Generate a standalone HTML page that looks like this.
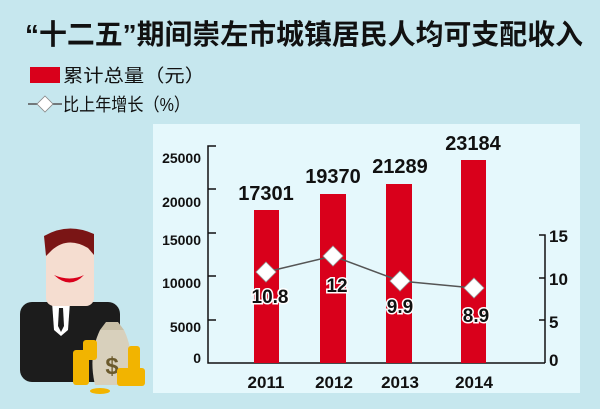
<!DOCTYPE html>
<html><head><meta charset="utf-8"><style>
html,body{margin:0;padding:0;}
body{width:600px;height:409px;background:#c6e7ee;overflow:hidden;}
svg{display:block;}
</style></head><body>
<svg width="600" height="409" viewBox="0 0 600 409" xmlns="http://www.w3.org/2000/svg" font-family="'Liberation Sans','Noto Sans CJK SC',sans-serif">
<rect width="600" height="409" fill="#c6e7ee"/>
<text x="25" y="44" font-size="28" font-weight="bold" fill="#111" textLength="558" lengthAdjust="spacingAndGlyphs">“十二五”期间崇左市城镇居民人均可支配收入</text>
<rect x="30" y="67" width="30" height="16" fill="#d9001b"/>
<text x="63" y="82" font-size="18" fill="#111" textLength="142" lengthAdjust="spacingAndGlyphs">累计总量（元）</text>
<line x1="28" y1="104" x2="62" y2="104" stroke="#555" stroke-width="1.5"/>
<path d="M45 96 L53 104 L45 112 L37 104Z" fill="#fff" stroke="#888" stroke-width="0.8"/>
<text x="63" y="111" font-size="18" fill="#111" textLength="127" lengthAdjust="spacingAndGlyphs">比上年增长（%）</text>
<rect x="153" y="124" width="427" height="269" fill="#e5f8fc"/>
<!-- left axis -->
<g stroke="#111" stroke-width="1.5" fill="none">
<polyline points="216,146 208,146 208,363 545,363"/>
<line x1="208" y1="189" x2="216" y2="189"/><line x1="208" y1="233" x2="216" y2="233"/>
<line x1="208" y1="276" x2="216" y2="276"/><line x1="208" y1="320" x2="216" y2="320"/>
<polyline points="539,235 545,235 545,363"/>
<line x1="539" y1="278" x2="545" y2="278"/><line x1="539" y1="320" x2="545" y2="320"/>
</g>
<g font-size="14" font-weight="bold" fill="#111" text-anchor="end">
<text x="201" y="163">25000</text><text x="201" y="207">20000</text><text x="201" y="245">15000</text>
<text x="201" y="288">10000</text><text x="201" y="332">5000</text><text x="201" y="363">0</text>
</g>
<g font-size="17" font-weight="bold" fill="#111">
<text x="549" y="242">15</text><text x="549" y="285">10</text><text x="549" y="328">5</text><text x="549" y="366">0</text>
</g>
<g fill="#d9001b">
<rect x="254" y="210" width="25" height="153"/><rect x="320" y="194" width="26" height="169"/>
<rect x="386" y="184" width="26" height="179"/><rect x="461" y="160" width="25" height="203"/>
</g>
<g font-size="20" font-weight="bold" fill="#111" text-anchor="middle">
<text x="266" y="200">17301</text><text x="333" y="183">19370</text><text x="400" y="173">21289</text><text x="473" y="150">23184</text>
</g>
<g font-size="17" font-weight="bold" fill="#111" text-anchor="middle">
<text x="266" y="388">2011</text><text x="334" y="388">2012</text><text x="400" y="388">2013</text><text x="474" y="388">2014</text>
</g>
<polyline points="266,272 333,256 400,281 474,288" fill="none" stroke="#555" stroke-width="1.5"/>
<g fill="#fff" stroke="#999" stroke-width="0.8">
<path d="M266 262 L276 272 L266 282 L256 272Z"/><path d="M333 246 L343 256 L333 266 L323 256Z"/>
<path d="M400 271 L410 281 L400 291 L390 281Z"/><path d="M474 278 L484 288 L474 298 L464 288Z"/>
</g>
<g font-size="19" font-weight="bold" fill="#111" stroke="#fff" stroke-width="3" paint-order="stroke" text-anchor="middle">
<text x="270" y="303">10.8</text><text x="337" y="292">12</text><text x="400" y="313">9.9</text><text x="476" y="322">8.9</text>
</g>
<!-- man -->
<rect x="20" y="302" width="100" height="80" rx="12" fill="#1c1c1c"/>
<path d="M52 302 L70 302 L68 330 L61 336 L54 330Z" fill="#fff"/>
<path d="M59 308 L63 308 L64 326 L61 332 L58 326Z" fill="#1c1c1c"/>
<rect x="46" y="240" width="48" height="66" rx="8" fill="#f5ddd0"/>
<path d="M44 236 Q68 222 94 234 L94 255 L88 248 Q68 236 52 250 L46 256Z" fill="#7a1515"/>
<path d="M54 275 Q70 290 84 275 Q70 282 54 275Z" fill="#d9001b"/>
<!-- money bag & coins -->
<path d="M100 330 Q88 355 95 385 L128 385 Q136 355 124 330Z" fill="#d8d0bc"/>
<path d="M100 330 L124 330 L118 322 L106 322Z" fill="#c9bfa6"/>
<text x="112" y="374" font-size="24" font-weight="bold" fill="#6b5a2c" text-anchor="middle">$</text>
<g fill="#f2b400">
<rect x="73" y="350" width="16" height="35" rx="3"/><rect x="83" y="340" width="14" height="20" rx="3"/>
<rect x="128" y="346" width="12" height="36" rx="3"/><rect x="117" y="368" width="28" height="18" rx="3"/>
<ellipse cx="100" cy="391" rx="10" ry="3"/>
</g>
</svg>
</body></html>
